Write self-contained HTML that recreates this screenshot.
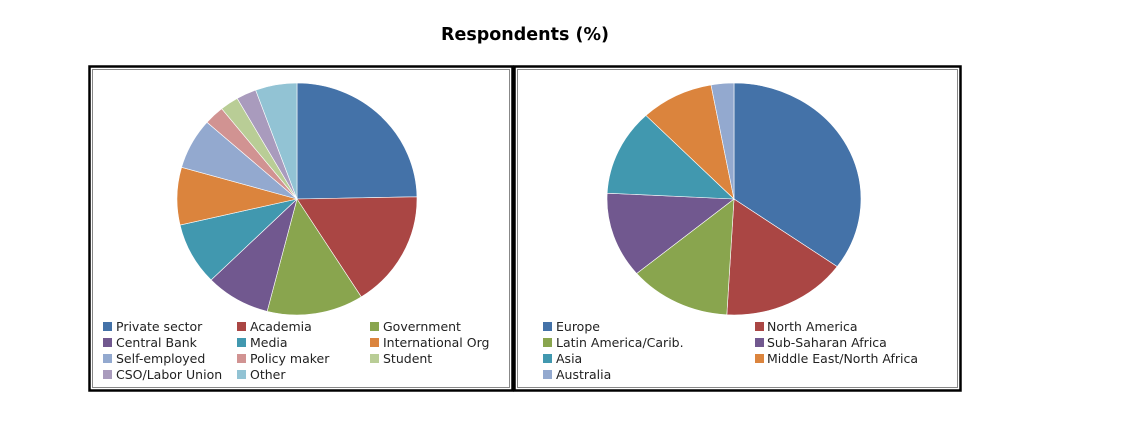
<!DOCTYPE html>
<html><head><meta charset="utf-8"><style>
body{margin:0;background:#fff;width:1121px;height:428px;overflow:hidden;font-family:"Liberation Sans","DejaVu Sans",sans-serif}
</style></head><body>
<svg id="s" width="1121" height="428" xmlns="http://www.w3.org/2000/svg" font-family="'DejaVu Sans','Liberation Sans',sans-serif">
<text x="525" y="40" text-anchor="middle" font-size="17.5" font-weight="bold" fill="#000">Respondents (%)</text>
<rect x="89.5" y="66.5" width="423" height="324" fill="none" stroke="#000" stroke-width="2.5"/>
<rect x="92.5" y="69.5" width="417" height="318" fill="none" stroke="#888" stroke-width="1"/>
<rect x="514.5" y="66.5" width="446" height="324" fill="none" stroke="#000" stroke-width="2.5"/>
<rect x="517.5" y="69.5" width="440" height="318" fill="none" stroke="#888" stroke-width="1"/>
<g id="p1"></g><g id="p2"></g>
<g font-size="12.5" fill="#222">
<rect x="103" y="322" width="9" height="9" fill="#4472a8"/><text x="116" y="331">Private sector</text>
<rect x="237" y="322" width="9" height="9" fill="#aa4644"/><text x="250" y="331">Academia</text>
<rect x="370" y="322" width="9" height="9" fill="#89a54e"/><text x="383" y="331">Government</text>
<rect x="103" y="338" width="9" height="9" fill="#71588f"/><text x="116" y="347">Central Bank</text>
<rect x="237" y="338" width="9" height="9" fill="#4198af"/><text x="250" y="347">Media</text>
<rect x="370" y="338" width="9" height="9" fill="#db843d"/><text x="383" y="347">International Org</text>
<rect x="103" y="354" width="9" height="9" fill="#93a9cf"/><text x="116" y="363">Self-employed</text>
<rect x="237" y="354" width="9" height="9" fill="#d19392"/><text x="250" y="363">Policy maker</text>
<rect x="370" y="354" width="9" height="9" fill="#b9cd96"/><text x="383" y="363">Student</text>
<rect x="103" y="370" width="9" height="9" fill="#a99bbd"/><text x="116" y="379">CSO/Labor Union</text>
<rect x="237" y="370" width="9" height="9" fill="#92c3d4"/><text x="250" y="379">Other</text>
<rect x="543" y="322" width="9" height="9" fill="#4472a8"/><text x="556" y="331">Europe</text>
<rect x="755" y="322" width="9" height="9" fill="#aa4644"/><text x="767" y="331">North America</text>
<rect x="543" y="338" width="9" height="9" fill="#89a54e"/><text x="556" y="347">Latin America/Carib.</text>
<rect x="755" y="338" width="9" height="9" fill="#71588f"/><text x="767" y="347">Sub-Saharan Africa</text>
<rect x="543" y="354" width="9" height="9" fill="#4198af"/><text x="556" y="363">Asia</text>
<rect x="755" y="354" width="9" height="9" fill="#db843d"/><text x="767" y="363">Middle East/North Africa</text>
<rect x="543" y="370" width="9" height="9" fill="#93a9cf"/><text x="556" y="379">Australia</text>
</g>
</svg>
<script>
function pie(id,cx,cy,rx,ry,cum,cols){
 var g=document.getElementById(id),prev=0,h='';
 for(var i=0;i<cum.length;i++){
  var a0=prev*2*Math.PI,a1=cum[i]*2*Math.PI;
  var x0=cx+rx*Math.sin(a0),y0=cy-ry*Math.cos(a0),x1=cx+rx*Math.sin(a1),y1=cy-ry*Math.cos(a1);
  var lg=(cum[i]-prev)>0.5?1:0;
  h+='<path d="M'+cx+','+cy+' L'+x0.toFixed(2)+','+y0.toFixed(2)+' A'+rx+','+ry+' 0 '+lg+' 1 '+x1.toFixed(2)+','+y1.toFixed(2)+' Z" fill="'+cols[i]+'" stroke="#fff" stroke-width="0.6"/>';
  prev=cum[i];
 }
 g.innerHTML=h;
}
var c=['#4472a8','#aa4644','#89a54e','#71588f','#4198af','#db843d','#93a9cf','#d19392','#b9cd96','#a99bbd','#92c3d4'];
pie('p1',297,199,120,116,[0.247,0.41,0.54,0.627,0.714,0.794,0.865,0.892,0.917,0.944,1],c);
pie('p2',734,199,127,116,[0.349,0.509,0.639,0.758,0.878,0.971,1],['#4472a8','#aa4644','#89a54e','#71588f','#4198af','#db843d','#93a9cf']);
</script>
</body></html>
